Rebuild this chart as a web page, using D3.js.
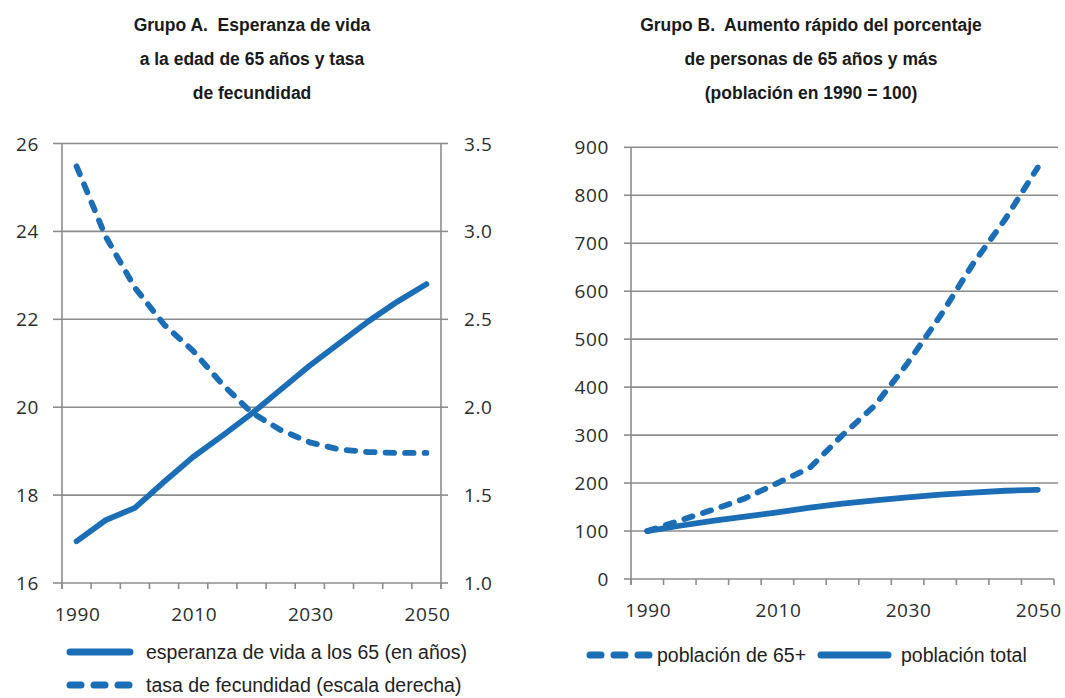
<!DOCTYPE html>
<html>
<head>
<meta charset="utf-8">
<script src="https://cdn.jsdelivr.net/npm/d3@7"></script>
<style>
  body { margin: 0; background: #fff; }
  .title { font-family: "Liberation Sans", Arial, sans-serif; font-weight: bold; font-size: 17.5px; fill: #1a1a1a; white-space: pre; }
  .tick-label { font-family: "Open Sans", sans-serif; font-size: 19px; fill: #2c2c2c; letter-spacing: 0.6px; }
  .legend { font-family: "Liberation Sans", Arial, sans-serif; font-size: 19.5px; fill: #222; }
</style>
</head>
<body>
<div id="chart"></div>
<script>
// Two panels side by side: A has two y scales (years left, fertility right),
// B is an index of population with 1990 = 100.

/* data, one value every 5 years */
var years = [1990, 1995, 2000, 2005, 2010, 2015, 2020, 2025, 2030, 2035, 2040, 2045, 2050];
var yearLabels = [1990, 2010, 2030, 2050];

/* Grupo A */
var lifeExp65 = [16.95, 17.43, 17.71, 18.3, 18.87, 19.35, 19.85, 20.4, 20.95, 21.45, 21.95, 22.4, 22.8];
var fertility = [3.37, 2.97, 2.68, 2.47, 2.32, 2.13, 1.97, 1.87, 1.8, 1.76, 1.745, 1.74, 1.74];
var ticksLeftA = [16, 18, 20, 22, 24, 26];
var ticksRightA = [1.0, 1.5, 2.0, 2.5, 3.0, 3.5];

/* Grupo B */
var pop65 = [100, 122, 144, 168, 200, 232, 300, 362, 450, 548, 656, 750, 858];
var popTotal = [100, 111, 121, 130, 139, 149, 157, 164, 170, 176, 180, 184, 186];
var ticksB = [0, 100, 200, 300, 400, 500, 600, 700, 800, 900];

var titleA = ["Grupo A.  Esperanza de vida", "a la edad de 65 años y tasa", "de fecundidad"];
var titleB = ["Grupo B.  Aumento rápido del porcentaje", "de personas de 65 años y más", "(población en 1990 = 100)"];
var legendA = ["esperanza de vida a los 65 (en años)", "tasa de fecundidad (escala derecha)"];
var legendB = ["población de 65+", "población total"];

var blue = "#1b6db5";
var grey = "#8c8c8c";

var svg = d3.select("#chart").append("svg")
    .attr("width", 1065)
    .attr("height", 698);

/* centered title, three lines */
function drawTitle(lines, cx) {
  svg.append("g").selectAll("text")
      .data(lines)
      .enter()
      .append("text")
      .attr("class", "title")
      .attr("x", cx)
      .attr("y", function (d, i) { return 31 + i * 34; })
      .attr("text-anchor", "middle")
      .text(function (d) { return d; });
}

/* horizontal gridlines for the given ticks */
function drawGrid(g, y, ticks, x0, x1) {
  g.append("g").selectAll("line")
      .data(ticks)
      .enter()
      .append("line")
      .attr("x1", x0)
      .attr("x2", x1)
      .attr("y1", function (d) { return y(d); })
      .attr("y2", function (d) { return y(d); })
      .attr("stroke", grey)
      .attr("stroke-width", 1.6);
}

/* bottom category axis: ticks between categories, labels every 20 years */
function drawXAxis(g, x, yPos) {
  var bounds = years.map(function (d) { return x(d); });
  bounds.push(x.range()[1]);
  g.append("line")
      .attr("x1", x.range()[0]).attr("x2", x.range()[1])
      .attr("y1", yPos).attr("y2", yPos)
      .attr("stroke", grey).attr("stroke-width", 1.6);
  g.append("g").selectAll("line")
      .data(bounds)
      .enter()
      .append("line")
      .attr("x1", function (d) { return d; })
      .attr("x2", function (d) { return d; })
      .attr("y1", yPos)
      .attr("y2", yPos + 6)
      .attr("stroke", grey).attr("stroke-width", 1.6);
  g.append("g").selectAll("text")
      .data(yearLabels)
      .enter()
      .append("text")
      .attr("class", "tick-label")
      .attr("x", function (d) { return x(d) + x.bandwidth() / 2 + 1; })
      .attr("y", yPos + 38)
      .attr("text-anchor", "middle")
      .text(function (d) { return d; });
}

/* vertical axis line plus labels, tick marks stick out by len */
function drawYAxis(g, y, ticks, xPos, side, len, pad, fmt) {
  g.append("line")
      .attr("x1", xPos).attr("x2", xPos)
      .attr("y1", y.range()[1]).attr("y2", y.range()[0] + 6)
      .attr("stroke", grey).attr("stroke-width", 1.6);
  g.append("g").selectAll("line")
      .data(ticks)
      .enter()
      .append("line")
      .attr("x1", xPos)
      .attr("x2", xPos + side * len)
      .attr("y1", function (d) { return y(d); })
      .attr("y2", function (d) { return y(d); })
      .attr("stroke", grey).attr("stroke-width", 1.6);
  g.append("g").selectAll("text")
      .data(ticks)
      .enter()
      .append("text")
      .attr("class", "tick-label")
      .attr("x", xPos + side * pad)
      .attr("y", function (d) { return y(d) + 7; })
      .attr("text-anchor", side < 0 ? "end" : "start")
      .text(fmt);
}

function drawLine(g, x, y, values, dashed) {
  var line = d3.line()
      .x(function (d, i) { return x(years[i]) + x.bandwidth() / 2; })
      .y(function (d) { return y(d); });
  g.append("path")
      .datum(values)
      .attr("d", line)
      .attr("fill", "none")
      .attr("stroke", blue)
      .attr("stroke-width", 5.8)
      .attr("stroke-linecap", "round")
      .attr("stroke-linejoin", "round")
      .attr("stroke-dasharray", dashed ? "8.5,11" : null);
}

/* legend sample: a short thick line, solid or with three dashes */
function legendKey(x0, x1, yPos, dashed) {
  svg.append("line")
      .attr("x1", x0).attr("x2", x1)
      .attr("y1", yPos).attr("y2", yPos)
      .attr("stroke", blue)
      .attr("stroke-width", 7)
      .attr("stroke-linecap", "round")
      .attr("stroke-dasharray", dashed ? "11,13" : null);
}

function legendText(str, x, yPos) {
  svg.append("text")
      .attr("class", "legend")
      .attr("x", x)
      .attr("y", yPos + 7)
      .text(str);
}

/* ---- Grupo A ---- */
var ax = d3.scaleBand().domain(years).range([62, 441]);
var ayL = d3.scaleLinear().domain([16, 26]).range([583, 143.5]);
var ayR = d3.scaleLinear().domain([1.0, 3.5]).range([583, 143.5]);
var ga = svg.append("g");

drawTitle(titleA, 252);
drawGrid(ga, ayL, ticksLeftA.slice(1), 62, 441);
drawXAxis(ga, ax, ayL(16));
drawYAxis(ga, ayL, ticksLeftA, 62, -1, 9, 23, function (d) { return d; });
drawYAxis(ga, ayR, ticksRightA, 441, 1, 7, 23, d3.format(".1f"));
drawLine(ga, ax, ayR, fertility, true);
drawLine(ga, ax, ayL, lifeExp65, false);

legendKey(70, 130, 652, false);
legendText(legendA[0], 146, 652);
legendKey(70, 129, 685, true);
legendText(legendA[1], 146, 685);

/* ---- Grupo B ---- */
var bx = d3.scaleBand().domain(years).range([631, 1054]);
var by = d3.scaleLinear().domain([0, 900]).range([579, 147.3]);
var gb = svg.append("g");

drawTitle(titleB, 811);
drawGrid(gb, by, ticksB.slice(1), 631, 1058);
drawXAxis(gb, bx, by(0));
drawYAxis(gb, by, ticksB, 631, -1, 7, 22, function (d) { return d; });
drawLine(gb, bx, by, pop65, true);
drawLine(gb, bx, by, popTotal, false);

legendKey(590, 652, 655, true);
legendText(legendB[0], 657, 655);
legendKey(821, 888, 655, false);
legendText(legendB[1], 901, 655);
</script>
</body>
</html>
